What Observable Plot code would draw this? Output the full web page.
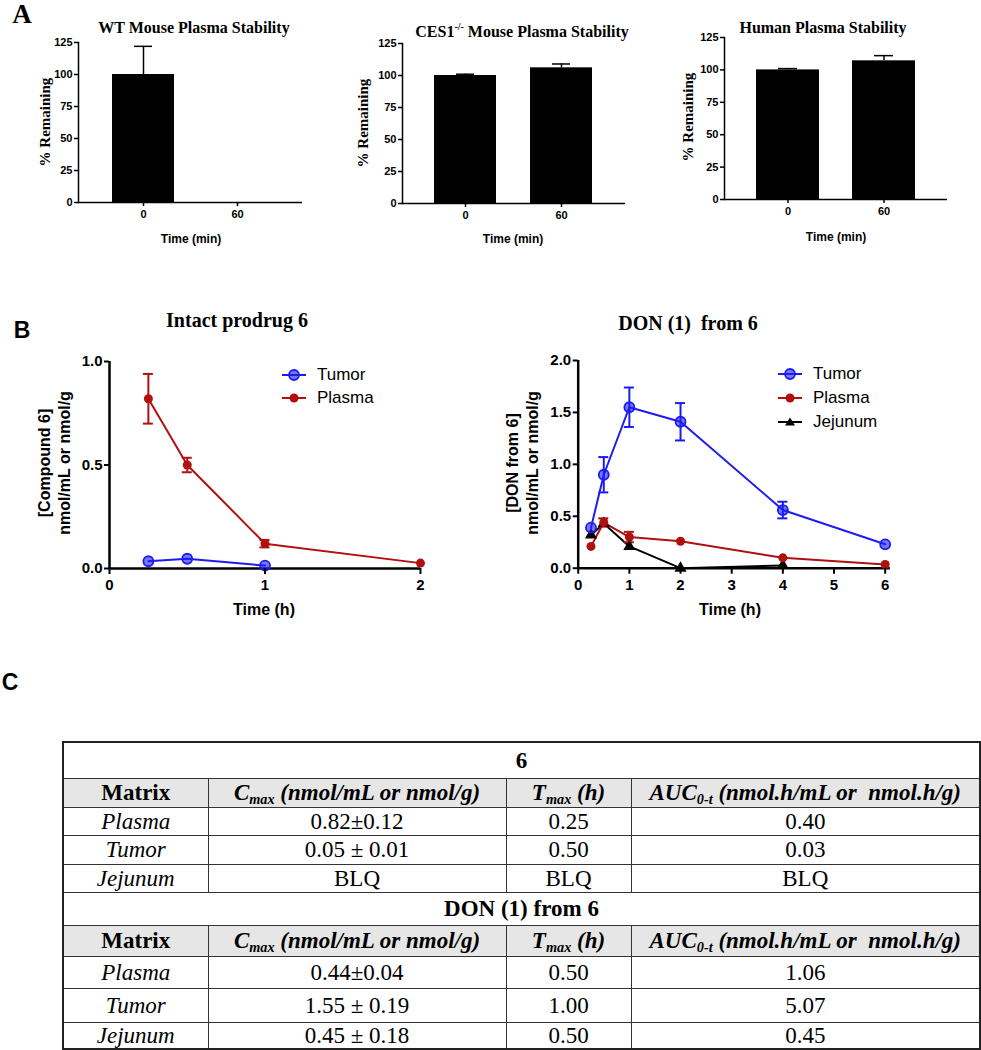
<!DOCTYPE html>
<html><head><meta charset="utf-8">
<script src="https://cdn.jsdelivr.net/npm/d3@7"></script>
<script src="https://cdn.jsdelivr.net/npm/@observablehq/plot@0.6"></script>
<style>
body{margin:0;background:#fff;}
#root{position:relative;width:981px;height:1050px;overflow:hidden;font-family:"Liberation Sans",Arial,sans-serif;color:#000;}
.abs{position:absolute;}
.ctr{position:absolute;transform:translate(-50%,-50%);white-space:nowrap;}
.rot{position:absolute;transform:translate(-50%,-50%) rotate(-90deg);white-space:nowrap;text-align:center;}
.serif{font-family:"Liberation Serif","Times New Roman",serif;font-weight:bold;}
.sans{font-family:"Liberation Sans",Arial,sans-serif;font-weight:bold;}
.leg{position:absolute;display:flex;align-items:center;transform:translateY(-50%);font-family:"Liberation Sans",Arial,sans-serif;font-size:17px;white-space:nowrap;}
.leg svg{margin-right:11px;overflow:visible;}
#tbl{position:absolute;left:62px;top:741px;width:917px;border-collapse:collapse;font-family:"Liberation Serif","Times New Roman",serif;font-size:23px;border:2px solid #222;table-layout:fixed;}
#tbl td{border:1px solid #333;padding:0;text-align:center;line-height:1;white-space:nowrap;}
#tbl tr.hd td{background:#e6e6e6;font-weight:bold;font-style:italic;}
#tbl tr.hd td:first-child{font-style:normal;}
#tbl tr.sec td{font-weight:bold;}
#tbl td.mx{font-style:italic;}
#tbl sub{font-size:0.62em;vertical-align:-0.25em;line-height:0;}
</style></head>
<body><div id="root"></div>
<script>
// ---------- Panel A data ----------
const stabilityTimes = ["0", "60"];
const wtMean = [100, 0];
const wtSem = [22, 0];
const ces1Mean = [100, 106];
const ces1Sem = [1, 3];
const humanMean = [100, 107];
const humanSem = [1, 4];
const stabilityTicks = [0, 25, 50, 75, 100, 125];

// ---------- Panel B data ----------
const prodrugTime = [0.25, 0.5, 1, 2];
const prodrugPlasma = [0.82, 0.50, 0.12, 0.026];
const prodrugPlasmaSem = [0.12, 0.035, 0.018, 0];
const prodrugTumorTime = [0.25, 0.5, 1];
const prodrugTumor = [0.035, 0.047, 0.014];

const donTime = [0.25, 0.5, 1, 2, 4, 6];
const donTumor = [0.39, 0.90, 1.55, 1.41, 0.56, 0.23];
const donTumorSem = [0, 0.17, 0.19, 0.18, 0.08, 0];
const donPlasma = [0.21, 0.44, 0.30, 0.26, 0.10, 0.036];
const donPlasmaSem = [0, 0.04, 0.05, 0, 0, 0];
const donJejunumTime = [0.25, 0.5, 1, 2, 4];
const donJejunum = [0.32, 0.43, 0.21, 0, 0.026];

// ---------- Panel C data ----------
const matrixNames = ["Plasma", "Tumor", "Jejunum"];
const prodrugCmax = ["0.82±0.12", "0.05 ± 0.01", "BLQ"];
const prodrugTmax = ["0.25", "0.50", "BLQ"];
const prodrugAuc = ["0.40", "0.03", "BLQ"];
const donCmax = ["0.44±0.04", "1.55 ± 0.19", "0.45 ± 0.18"];
const donTmax = ["0.50", "1.00", "0.50"];
const donAuc = ["1.06", "5.07", "0.45"];

const BLUE = "#1c1cf2", RED = "#b01010", BLACK = "#000";
const root = document.getElementById("root");

function place(el, left, top) {
  el.style.position = "absolute"; el.style.left = left + "px"; el.style.top = top + "px";
  root.appendChild(el); return el;
}
function label(html, cx, cy, cls, size) {
  const d = document.createElement("div");
  d.className = cls; d.innerHTML = html; d.style.fontSize = size + "px";
  d.style.left = cx + "px"; d.style.top = cy + "px";
  root.appendChild(d); return d;
}

// ---------- Panel A ----------
function stabilityChart(mean, sem, o) {
  const data = stabilityTimes.map((t, i) => ({t, v: mean[i], e: sem[i]}));
  const err = data.filter(d => d.e > 0);
  return Plot.plot({
    width: o.width, height: o.height,
    marginLeft: o.ml, marginRight: o.mr, marginTop: o.mt, marginBottom: o.mb,
    style: {fontFamily: "Liberation Sans, Arial, sans-serif", fontWeight: "bold", fontSize: "11px", color: "#000", background: "transparent", overflow: "visible"},
    x: {type: "band", domain: stabilityTimes, paddingInner: o.pi, paddingOuter: o.po},
    y: {domain: [0, 125]},
    marks: [
      Plot.ruleX(err, {x: "t", y1: "v", y2: d => d.v + d.e, stroke: BLACK, strokeWidth: 1.5}),
      Plot.tickY(err, {x: "t", y: d => d.v + d.e, stroke: BLACK, strokeWidth: 1.5, insetLeft: 22, insetRight: 22}),
      Plot.barY(data, {x: "t", y: "v", fill: BLACK}),
      Plot.ruleY([0], {strokeWidth: 1.5}),
      Plot.frame({anchor: "left", strokeWidth: 1.5}),
      Plot.axisY({ticks: stabilityTicks, tickSize: 4, tickPadding: 2, strokeWidth: 1.5, label: null}),
      Plot.axisX({tickSize: 4, tickPadding: 4, strokeWidth: 1.5, label: null})
    ]
  });
}
place(stabilityChart(wtMean, wtSem, {width: 320, height: 230, ml: 78, mr: 18, mt: 42, mb: 28, pi: 0.34, po: 0.36}), 0, 0);
place(stabilityChart(ces1Mean, ces1Sem, {width: 320, height: 230, ml: 72, mr: 25, mt: 43, mb: 27, pi: 0.35, po: 0.325}), 330, 0);
place(stabilityChart(humanMean, humanSem, {width: 331, height: 230, ml: 74, mr: 34, mt: 37, mb: 31, pi: 0.344, po: 0.333}), 650, 0);

label("A", 22, 14, "ctr serif", 27);
label("WT Mouse Plasma Stability", 194, 28, "ctr serif", 16);
label("CES1<sup style='font-size:10px'>-/-</sup> Mouse Plasma Stability", 522, 31, "ctr serif", 16);
label("Human Plasma Stability", 823, 28, "ctr serif", 16);
label("% Remaining", 45, 122, "rot serif", 15);
label("% Remaining", 363, 123, "rot serif", 15);
label("% Remaining", 688, 117, "rot serif", 15);
label("Time (min)", 191, 239, "ctr sans", 12);
label("Time (min)", 513, 239, "ctr sans", 12);
label("Time (min)", 836, 237, "ctr sans", 12);

// ---------- Panel B ----------
function errMarks(data, color) {
  const e = data.filter(d => d.e > 0);
  return [
    Plot.ruleX(e, {x: "t", y1: d => d.v - d.e, y2: d => d.v + d.e, stroke: color, strokeWidth: 2}),
    Plot.ruleY(e, {x1: "t", x2: "t", y: d => d.v + d.e, stroke: color, strokeWidth: 2, insetLeft: -5, insetRight: -5}),
    Plot.ruleY(e, {x1: "t", x2: "t", y: d => d.v - d.e, stroke: color, strokeWidth: 2, insetLeft: -5, insetRight: -5})
  ];
}
function pkChart(o, series) {
  const marks = [];
  for (const s of series) marks.push(Plot.line(s.data, {x: "t", y: "v", stroke: s.color, strokeWidth: 2}));
  for (const s of series) marks.push(...errMarks(s.data, s.color));
  for (const s of series) marks.push(Plot.dot(s.data, {x: "t", y: "v", ...s.dot}));
  return Plot.plot({
    width: o.width, height: o.height,
    marginLeft: o.ml, marginRight: o.mr, marginTop: o.mt, marginBottom: o.mb,
    style: {fontFamily: "Liberation Sans, Arial, sans-serif", fontWeight: "bold", fontSize: "15px", color: "#000", background: "transparent", overflow: "visible"},
    x: {domain: o.xdomain}, y: {domain: o.ydomain},
    marks: [
      Plot.ruleY([0], {strokeWidth: 2.5}),
      Plot.ruleX([0], {strokeWidth: 2.5}),
      ...marks,
      Plot.axisX({ticks: o.xticks, tickFormat: "d", tickSize: 6, tickPadding: 5, strokeWidth: 2, label: null}),
      Plot.axisY({ticks: o.yticks, tickFormat: ".1f", tickSize: 5, tickPadding: 2, strokeWidth: 2, label: null})
    ]
  });
}
const tumorDot = {r: 5, fill: BLUE, fillOpacity: 0.6, stroke: BLUE, strokeWidth: 1.8};
const plasmaDot = {r: 4.5, fill: RED};
const jejunumDot = {r: 4.5, symbol: "triangle", fill: BLACK};

place(pkChart({width: 440, height: 300, ml: 109, mr: 20, mt: 61, mb: 32, xdomain: [0, 2], ydomain: [0, 1], xticks: [0, 1, 2], yticks: [0, 0.5, 1]}, [
  {color: RED, data: prodrugTime.map((t, i) => ({t, v: prodrugPlasma[i], e: prodrugPlasmaSem[i]})), dot: plasmaDot},
  {color: BLUE, data: prodrugTumorTime.map((t, i) => ({t, v: prodrugTumor[i], e: 0})), dot: tumorDot}
]), 0, 300);

place(pkChart({width: 501, height: 300, ml: 97.7, mr: 91.2, mt: 60, mb: 32.3, xdomain: [0, 6.1], ydomain: [0, 2], xticks: [0, 1, 2, 3, 4, 5, 6], yticks: [0, 0.5, 1, 1.5, 2]}, [
  {color: BLACK, data: donJejunumTime.map((t, i) => ({t, v: donJejunum[i], e: 0})), dot: jejunumDot},
  {color: RED, data: donTime.map((t, i) => ({t, v: donPlasma[i], e: donPlasmaSem[i]})), dot: plasmaDot},
  {color: BLUE, data: donTime.map((t, i) => ({t, v: donTumor[i], e: donTumorSem[i]})), dot: tumorDot}
]), 480, 300);

label("B", 22, 330, "ctr sans", 23);
label("Intact prodrug 6", 237, 320, "ctr serif", 20);
label("DON (1)&nbsp; from 6", 688, 323, "ctr serif", 20);
const yl1 = label("[Compound 6]<br>nmol/mL or nmol/g", 55, 463, "rot sans", 16); yl1.style.lineHeight = "20px";
const yl2 = label("[DON from 6]<br>nmol/mL or nmol/g", 523, 463, "rot sans", 16); yl2.style.lineHeight = "20px";
label("Time (h)", 264, 610, "ctr sans", 16);
label("Time (h)", 730, 610, "ctr sans", 16);

function legendRow(x, y, color, dot, text) {
  const d = document.createElement("div");
  d.className = "leg";
  let m;
  if (dot === "open") m = `<circle cx="12" cy="6" r="5" fill="${color}" fill-opacity="0.6" stroke="${color}" stroke-width="1.8"/>`;
  else if (dot === "tri") m = `<path d="M12,1.5 L17,9.5 L7,9.5 Z" fill="${color}"/>`;
  else m = `<circle cx="12" cy="6" r="4.5" fill="${color}"/>`;
  d.innerHTML = `<svg width="24" height="12"><line x1="0" y1="6" x2="24" y2="6" stroke="${color}" stroke-width="2"/>${m}</svg><span>${text}</span>`;
  d.style.left = x + "px"; d.style.top = y + "px";
  root.appendChild(d);
}
legendRow(282, 375, BLUE, "open", "Tumor");
legendRow(282, 398, RED, "fill", "Plasma");
legendRow(778, 374, BLUE, "open", "Tumor");
legendRow(778, 398, RED, "fill", "Plasma");
legendRow(778, 422, BLACK, "tri", "Jejunum");

// ---------- Panel C ----------
label("C", 10, 682, "ctr sans", 23);
const header = `<tr class="hd" style="height:H">
<td>Matrix</td><td>C<sub>max</sub> (nmol/mL or nmol/g)</td><td>T<sub>max</sub> (h)</td><td>AUC<sub>0-t</sub> (nmol.h/mL or&nbsp; nmol.h/g)</td></tr>`;
function section(title, cmax, tmax, auc, hs) {
  let s = `<tr class="sec" style="height:${hs[0]}px"><td colspan="4">${title}</td></tr>`;
  s += header.replace("H", hs[1] + "px");
  matrixNames.forEach((m, i) => {
    s += `<tr style="height:${hs[i + 2]}px"><td class="mx">${m}</td><td>${cmax[i]}</td><td>${tmax[i]}</td><td>${auc[i]}</td></tr>`;
  });
  return s;
}
const tbl = document.createElement("table");
tbl.id = "tbl";
tbl.innerHTML = `<colgroup><col style="width:145px"><col style="width:298px"><col style="width:125px"><col style="width:349px"></colgroup>` +
  section("6", prodrugCmax, prodrugTmax, prodrugAuc, [36, 29, 28, 29, 28]) +
  section("DON (1) from 6", donCmax, donTmax, donAuc, [33, 31, 32, 34, 27]);
root.appendChild(tbl);
</script>
</body></html>
